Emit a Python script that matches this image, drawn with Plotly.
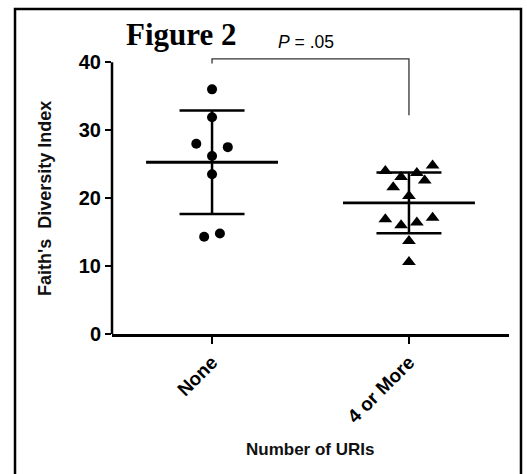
import numpy as np
import plotly.graph_objects as go

# ---- data ----
categories = ["None", "4 or More"]
none_values = [36.0, 31.9, 28.0, 27.5, 26.2, 23.5, 14.3, 14.8]
none_jitter = [0.0, 0.0, -0.08, 0.08, 0.0, 0.0, -0.04, 0.04]
more_values = [24.0, 23.1, 23.7, 24.8, 21.6, 22.6, 20.3, 16.9, 16.0, 16.4, 17.1, 13.7, 10.6]
more_jitter = [-0.12, -0.04, 0.04, 0.12, -0.08, 0.08, 0.0, -0.12, -0.04, 0.04, 0.12, 0.0, 0.0]
y_ticks = [0, 10, 20, 30, 40]
p_label = "<i>P</i> = .05"
bracket_top = 40.5
bracket_left_end = 39.8
bracket_right_end = 32.2

SANS = "Liberation Sans, Arial, sans-serif"
SERIF = "Liberation Serif, Times New Roman, serif"

fig = go.Figure()

groups = [
    (0, none_values, none_jitter, "circle", 10),
    (1, more_values, more_jitter, "triangle-up", 12),
]

MEAN_HW = 0.335
CAP_HW = 0.165
for xi, vals, jit, sym, size in groups:
    vals = np.array(vals)
    m = vals.mean()
    sd = vals.std(ddof=1)
    fig.add_trace(go.Scatter(
        x=[xi + j for j in jit], y=vals, mode="markers",
        marker=dict(symbol=sym, size=size, color="black"),
        showlegend=False, hoverinfo="y"))
    # mean line
    fig.add_trace(go.Scatter(x=[xi - MEAN_HW, xi + MEAN_HW], y=[m, m], mode="lines",
                             line=dict(color="black", width=2.8), showlegend=False, hoverinfo="skip"))
    # SD vertical
    fig.add_trace(go.Scatter(x=[xi, xi], y=[m - sd, m + sd], mode="lines",
                             line=dict(color="black", width=2.5), showlegend=False, hoverinfo="skip"))
    # caps
    for yy in (m - sd, m + sd):
        fig.add_trace(go.Scatter(x=[xi - CAP_HW, xi + CAP_HW], y=[yy, yy], mode="lines",
                                 line=dict(color="black", width=2.5), showlegend=False, hoverinfo="skip"))

# significance bracket
fig.add_trace(go.Scatter(x=[0, 0, 1, 1], y=[bracket_left_end, bracket_top, bracket_top, bracket_right_end],
                         mode="lines", line=dict(color="#333", width=1.3),
                         showlegend=False, hoverinfo="skip"))

fig.update_layout(
    width=527, height=474,
    margin=dict(l=112, r=18, t=52, b=140),
    paper_bgcolor="white", plot_bgcolor="white",
    font=dict(family=SANS, color="black"),
    xaxis=dict(range=[-0.508, 1.508], tickvals=[0, 1], ticktext=categories,
               tickangle=-45, showgrid=False, zeroline=False,
               showline=True, linecolor="black", linewidth=2.5,
               ticks="outside", ticklen=7, tickwidth=2, tickcolor="black",
               tickfont=dict(family=SANS, size=19, color="black", weight="bold")),
    yaxis=dict(range=[0, 41.5], tickvals=y_ticks, showgrid=False, zeroline=False,
               showline=False, ticks="outside", ticklen=6, tickwidth=2, tickcolor="black",
               tickfont=dict(family=SANS, size=20, color="black", weight="bold")),
    shapes=[
        dict(type="line", xref="paper", yref="y", x0=0, x1=0, y0=0, y1=40,
             line=dict(color="black", width=2.5)),
        dict(type="rect", xref="paper", yref="paper", x0=-0.2443, x1=1.0302, y0=-0.55, y1=1.1525,
             line=dict(color="black", width=2.5), fillcolor="rgba(0,0,0,0)"),
    ],
    annotations=[
        dict(text="<b>Figure 2</b>", xref="paper", yref="paper", x=0.175, y=1.063,
             xanchor="center", yanchor="middle", showarrow=False,
             font=dict(family=SERIF, size=31, color="black")),
        dict(text=p_label, xref="paper", yref="paper", x=0.4877, y=1.035,
             xanchor="center", yanchor="middle", showarrow=False,
             font=dict(family=SANS, size=17.5, color="black")),
        dict(text="<b>Faith's  Diversity Index</b>", xref="paper", yref="paper", x=-0.169, y=0.482,
             xanchor="center", yanchor="middle", textangle=-90, showarrow=False,
             font=dict(family=SANS, size=18, color="#111")),
        dict(text="<b>Number of URIs</b>", xref="paper", yref="paper", x=0.4987, y=-0.408,
             xanchor="center", yanchor="middle", showarrow=False,
             font=dict(family=SANS, size=17, color="#111")),
    ],
)

fig.write_html("out.html", config={"displayModeBar": False},
               post_script="document.body.style.margin='0px';document.body.style.overflow='hidden';")
